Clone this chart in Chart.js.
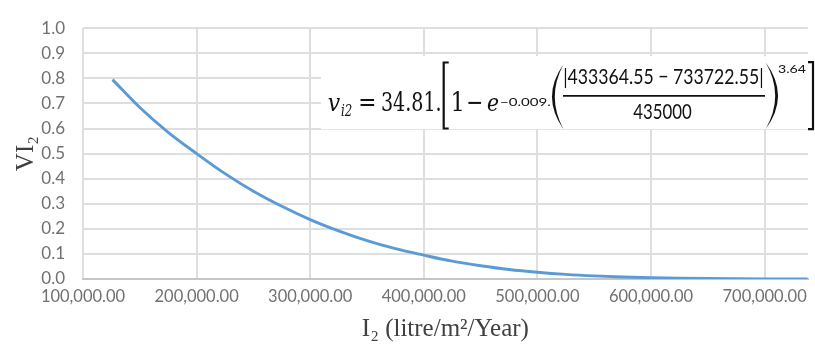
<!DOCTYPE html>
<html>
<head>
<meta charset="utf-8">
<title>VI2 vs I2</title>
<script src="https://cdn.jsdelivr.net/npm/chart.js@4.4.1/dist/chart.umd.min.js"></script>
<style>
  html, body { margin: 0; padding: 0; background: #ffffff; }
  canvas { display: block; }
</style>
</head>
<body>
<canvas id="chart" width="815" height="350"></canvas>
<script>
// Annual quantity I2 (litre/m2/Year) and the resulting index VI2
const i2Values = [126000, 150000, 175000, 200000, 225000, 250000, 275000, 300000,
                  325000, 350000, 375000, 400000, 425000, 450000, 475000, 500000,
                  525000, 550000, 575000, 600000, 625000, 650000, 675000, 700000, 738000];
const vi2Values = [0.795, 0.684, 0.585, 0.500, 0.420, 0.350, 0.290, 0.237,
                   0.192, 0.153, 0.121, 0.095, 0.071, 0.053, 0.038, 0.027,
                   0.0185, 0.0124, 0.0081, 0.0051, 0.0032, 0.0019, 0.0011, 0.0006, 0.0002];

const xTickValues = [100000, 200000, 300000, 400000, 500000, 600000, 700000];
const xTickLabels = ['100,000.00', '200,000.00', '300,000.00', '400,000.00',
                     '500,000.00', '600,000.00', '700,000.00'];
const yTickValues = [0, 0.1, 0.2, 0.3, 0.4, 0.5, 0.6, 0.7, 0.8, 0.9, 1.0];
const yTickLabels = ['0.0', '0.1', '0.2', '0.3', '0.4', '0.5', '0.6', '0.7', '0.8', '0.9', '1.0'];

const points = i2Values.map((x, i) => ({ x: x, y: vi2Values[i] }));

const TICK_FONT = 'Lato';
const SERIF = '"Liberation Serif", "Times New Roman", serif';
const MATH = '"DejaVu Serif", serif';
const SANS = 'Lato, "Open Sans", sans-serif';

// Draw text squeezed/stretched so that its ink spans exactly x0..x1
function fitInk(ctx, text, x0, x1, baseline, font) {
  ctx.font = font;
  const m = ctx.measureText(text);
  const ink = m.actualBoundingBoxLeft + m.actualBoundingBoxRight;
  const s = (x1 - x0) / ink;
  ctx.save();
  ctx.translate(x0 + m.actualBoundingBoxLeft * s, baseline);
  ctx.scale(s, 1);
  ctx.textAlign = 'left';
  ctx.textBaseline = 'alphabetic';
  ctx.fillText(text, 0, 0);
  ctx.restore();
}

// Large parenthesis as a filled crescent; depth < 0 bulges left "(", depth > 0 bulges right ")"
function paren(ctx, xTip, y0, y1, depth, thick) {
  const ym = (y0 + y1) / 2;
  const inner = depth - Math.sign(depth) * thick;
  ctx.beginPath();
  ctx.moveTo(xTip, y0);
  ctx.quadraticCurveTo(xTip + 2 * depth, ym, xTip, y1);
  ctx.quadraticCurveTo(xTip + 2 * inner, ym, xTip, y0);
  ctx.closePath();
  ctx.fill();
}

// Square bracket; dir = +1 serifs point right "[", -1 serifs point left "]"
function bracket(ctx, x, y0, y1, serif, dir) {
  ctx.beginPath();
  ctx.moveTo(x + dir * serif, y0);
  ctx.lineTo(x, y0);
  ctx.lineTo(x, y1);
  ctx.lineTo(x + dir * serif, y1);
  ctx.stroke();
}

// Equation panel in the upper right of the plot
const equationPanel = {
  id: 'equationPanel',
  afterDatasetsDraw(chart) {
    const ctx = chart.ctx;
    const a = chart.chartArea;
    const bx = a.left + 238;
    const by = a.top + 28;
    ctx.save();
    ctx.fillStyle = '#ffffff';
    ctx.fillRect(bx, by, chart.width - bx, 73);

    ctx.fillStyle = '#111111';
    ctx.strokeStyle = '#111111';
    const base = by + 54.5;
    fitInk(ctx, 'v', bx + 6.7, bx + 19, base, 'italic 25px ' + MATH);
    fitInk(ctx, 'i2', bx + 20, bx + 30.7, by + 59.5, 'italic 17px ' + MATH);
    fitInk(ctx, '=', bx + 39, bx + 54, base, '26px ' + MATH);
    fitInk(ctx, '34.81.', bx + 60.7, bx + 119, base, '26px ' + MATH);

    ctx.lineWidth = 2.2;
    bracket(ctx, bx + 122.7, by + 6.3, by + 72.3, 5, 1);

    fitInk(ctx, '1', bx + 132, bx + 140.7, base, '26px ' + MATH);
    fitInk(ctx, '\u2212', bx + 146.7, bx + 160.7, base, '26px ' + MATH);
    fitInk(ctx, 'e', bx + 166.7, bx + 177.3, base, 'italic 25px ' + MATH);
    fitInk(ctx, '\u22120.009.', bx + 179, bx + 229, by + 50, '11px ' + SANS);

    paren(ctx, bx + 242.5, by + 8, by + 73, -11.5, 2.8);

    fitInk(ctx, '|433364.55 \u2212 733722.55|', bx + 243, bx + 441.5, by + 28, '21px ' + SANS);
    ctx.lineWidth = 1.6;
    ctx.beginPath();
    ctx.moveTo(bx + 242, by + 39.7);
    ctx.lineTo(bx + 444, by + 39.7);
    ctx.stroke();
    fitInk(ctx, '435000', bx + 312.3, bx + 370.7, by + 63, '21px ' + SANS);

    paren(ctx, bx + 444.5, by + 6, by + 73, 12.5, 2.8);
    fitInk(ctx, '3.64', bx + 457, bx + 485.7, by + 16.3, '11px ' + SANS);

    ctx.lineWidth = 2.2;
    bracket(ctx, bx + 492, by + 6, by + 73, 5, -1);
    ctx.restore();
  }
};

new Chart(document.getElementById('chart'), {
  type: 'scatter',
  data: {
    datasets: [{
      data: points,
      showLine: true,
      borderColor: '#5b9bd5',
      backgroundColor: '#5b9bd5',
      borderWidth: 2.9,
      pointRadius: 0,
      pointHoverRadius: 0,
      cubicInterpolationMode: 'monotone',
      fill: false
    }]
  },
  options: {
    responsive: false,
    animation: false,
    devicePixelRatio: 1,
    layout: { padding: { top: 19, right: 5, left: 0, bottom: 0 } },
    plugins: {
      legend: { display: false },
      tooltip: { enabled: false },
      title: { display: false }
    },
    scales: {
      x: {
        type: 'linear',
        min: 100000,
        max: 738000,
        afterFit: (s) => { s.height = 71; },
        afterBuildTicks: (s) => { s.ticks = xTickValues.map(v => ({ value: v })); },
        border: { display: true, color: '#c6c6c6', width: 2 },
        grid: { color: '#dedede', lineWidth: 2, drawTicks: false },
        ticks: {
          maxRotation: 0,
          autoSkip: false,
          padding: 8,
          color: '#707070',
          font: { family: TICK_FONT, size: 16.5 },
          callback: (v) => {
            const k = xTickValues.indexOf(v);
            return k >= 0 ? xTickLabels[k] : '';
          }
        },
        title: {
          display: true,
          text: 'I\u2082 (litre/m\u00b2/Year)',
          color: '#404040',
          font: { family: SERIF, size: 25 },
          padding: { top: 0, bottom: 6 }
        }
      },
      y: {
        min: 0,
        max: 1,
        afterFit: (s) => { s.width = 83; },
        afterBuildTicks: (s) => { s.ticks = yTickValues.map(v => ({ value: v })); },
        border: { display: false },
        grid: { color: '#dedede', lineWidth: 2, drawTicks: false },
        ticks: {
          padding: 18,
          autoSkip: false,
          color: '#707070',
          font: { family: TICK_FONT, size: 17 },
          callback: (v) => yTickLabels[Math.round(v * 10)]
        },
        title: {
          display: true,
          text: 'VI\u2082',
          color: '#404040',
          font: { family: SERIF, size: 25 },
          padding: { top: 11, bottom: 0 }
        }
      }
    }
  },
  plugins: [equationPanel]
});
</script>
</body>
</html>
